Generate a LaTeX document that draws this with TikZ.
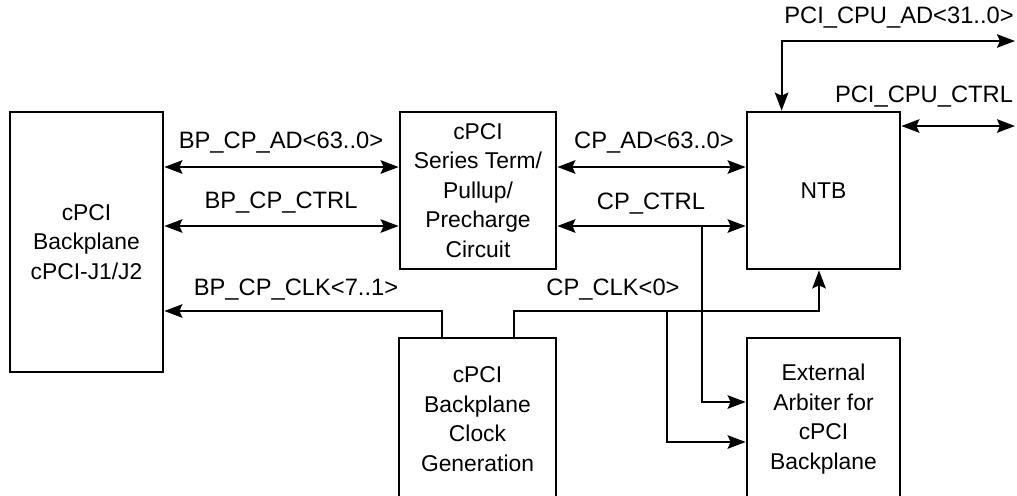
\documentclass[tikz,border=0pt]{standalone}
\usepackage{fontspec}
\setmainfont{Liberation Sans}
\usetikzlibrary{arrows.meta}
\tikzset{
  blk/.style={draw, line width=1.6pt, align=center, inner sep=0pt, font=\fontsize{13}{16.8}\selectfont},
  sig/.style={line width=1.1pt},
  lbl/.style={inner sep=0pt, font=\fontsize{13.5}{16}\selectfont}
}
\begin{document}
\begin{tikzpicture}[x=0.02cm, y=-0.02cm, >={Stealth[length=3.6mm,width=2.7mm,inset=0.6mm]}]
		%\draw[help lines] (0,0) grid[step=50] (1017,495);
		\useasboundingbox (0,0) rectangle (1017,495);
		\clip (0,0) rectangle (1017,495);
		
		\node[blk, minimum width=3.06cm, minimum height=5.2cm] (bp) at (86.5,242) {cPCI\\Backplane\\cPCI-J1/J2};
		\node[blk, minimum width=3.12cm, minimum height=3.14cm] (ser) at (478,190.5) {cPCI\\Series Term/\\Pullup/\\Precharge\\Circuit};
		\node[blk, minimum width=3.06cm, minimum height=3.14cm] (ntb) at (823.5,190.5) {NTB};
		\node[blk, minimum width=3.14cm, minimum height=3.24cm] (clk) at (477.5,419) {cPCI\\Backplane\\Clock\\Generation};
		\node[blk, minimum width=3.06cm, minimum height=3.24cm] (arb) at (823.5,419) {External\\Arbiter for\\cPCI\\Backplane};
		
		\coordinate (adrow) at (0,167);
		\coordinate (ctrlrow) at (0,226);
		\coordinate (clkrow) at (0,311);
		\coordinate (arbrowa) at (0,402);
		\coordinate (arbrowb) at (0,442);
		\coordinate (ctrlsplit) at (702,226);
		\coordinate (clksplit) at (667,311);
		\coordinate (bpclk) at ([xshift=0.88cm]clk.north west);
		\coordinate (cpclk) at ([xshift=2.32cm]clk.north west);
		\coordinate (ntbin) at ([xshift=-0.09cm]ntb.south);
		\coordinate (ntbtop) at ([xshift=0.72cm]ntb.north west);
		\coordinate (cpuad) at (1015,41);
		\coordinate (cpuctrl) at (1015,126);
		
		\draw[sig,<->] (bp.east |- adrow) -- (ser.west |- adrow);
		\draw[sig,<->] (bp.east |- ctrlrow) -- (ser.west |- ctrlrow);
		\draw[sig,->] (bpclk) |- (bp.east |- clkrow);
		\draw[sig,<->] (ser.east |- adrow) -- (ntb.west |- adrow);
		\draw[sig,<->] (ser.east |- ctrlrow) -- (ntb.west |- ctrlrow);
		\draw[sig,->] (ctrlsplit) |- (arb.west |- arbrowa);
		\draw[sig,->] (cpclk) |- (ntbin |- clkrow) -- (ntbin);
		\draw[sig,->] (clksplit) |- (arb.west |- arbrowb);
		\draw[sig,<->] (ntbtop) |- (cpuad);
		\draw[sig,<->] (ntb.east |- cpuctrl) -- (cpuctrl);
		
		\node[lbl] (bpadlbl) at (281,143) {BP\_CP\_AD<63..0>};
		\node[lbl] (bpctrllbl) at (281,203) {BP\_CP\_CTRL};
		\node[lbl] (bpclklbl) at (296,290) {BP\_CP\_CLK<7..1>};
		\node[lbl] (cpadlbl) at (654,143) {CP\_AD<63..0>};
		\node[lbl] (cpctrllbl) at (651,204) {CP\_CTRL};
		\node[lbl] (cpclklbl) at (613,290) {CP\_CLK<0>};
		\node[lbl] (cpuadlbl) at (899,18) {PCI\_CPU\_AD<31..0>};
		\node[lbl] (cpuctrllbl) at (924,97) {PCI\_CPU\_CTRL};
\end{tikzpicture}
\end{document}
